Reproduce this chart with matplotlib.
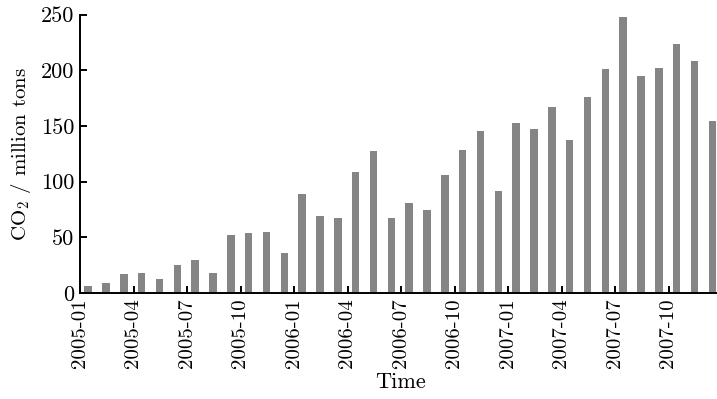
import matplotlib
matplotlib.use("Agg")
import matplotlib.pyplot as plt
import numpy as np

plt.rcParams["font.family"] = ["cmr10", "DejaVu Serif"]
plt.rcParams["mathtext.fontset"] = "cm"
plt.rcParams["axes.formatter.use_mathtext"] = True

months = [f"{y}-{m:02d}" for y in (2005, 2006, 2007) for m in range(1, 13)]
emissions = [6.6, 9.3, 16.7, 17.9, 12.3, 25.1, 29.3, 17.9, 52.0, 53.5, 55.0, 36.2,
             88.8, 69.1, 67.6, 108.5, 127.1, 67.6, 80.4, 74.8, 105.9, 128.3, 145.6, 91.5,
             152.5, 146.8, 166.9, 137.0, 175.5, 200.9, 247.6, 195.2, 202.2, 223.7, 208.1, 154.0]
tick_every = 3
y_ticks = [0, 50, 100, 150, 200, 250]

fig = plt.figure(figsize=(7.17, 3.99), dpi=100)
ax = fig.add_axes([80 / 717, 106 / 399, 642 / 717, 278.5 / 399])

x = np.arange(len(months))
ax.bar(x + 0.46, emissions, width=0.42, color="#858585", edgecolor="none")

ax.set_xlim(0, len(months))
ax.set_ylim(0, 250)
ax.set_xticks(x[::tick_every])
ax.set_xticklabels(months[::tick_every], rotation=90, fontsize=15)
ax.set_yticks(y_ticks)
ax.set_yticklabels([str(v) for v in y_ticks], fontsize=16)

for side in ("top", "right"):
    ax.spines[side].set_visible(False)
for side in ("left", "bottom"):
    ax.spines[side].set_linewidth(1.4)
ax.tick_params(direction="in", length=5, width=1.4, pad=4)

ax.set_xlabel("Time", fontsize=16, labelpad=3)
ax.set_ylabel(r"CO$_2$ / million tons", fontsize=15, labelpad=6)

fig.savefig("out.png", dpi=100)
